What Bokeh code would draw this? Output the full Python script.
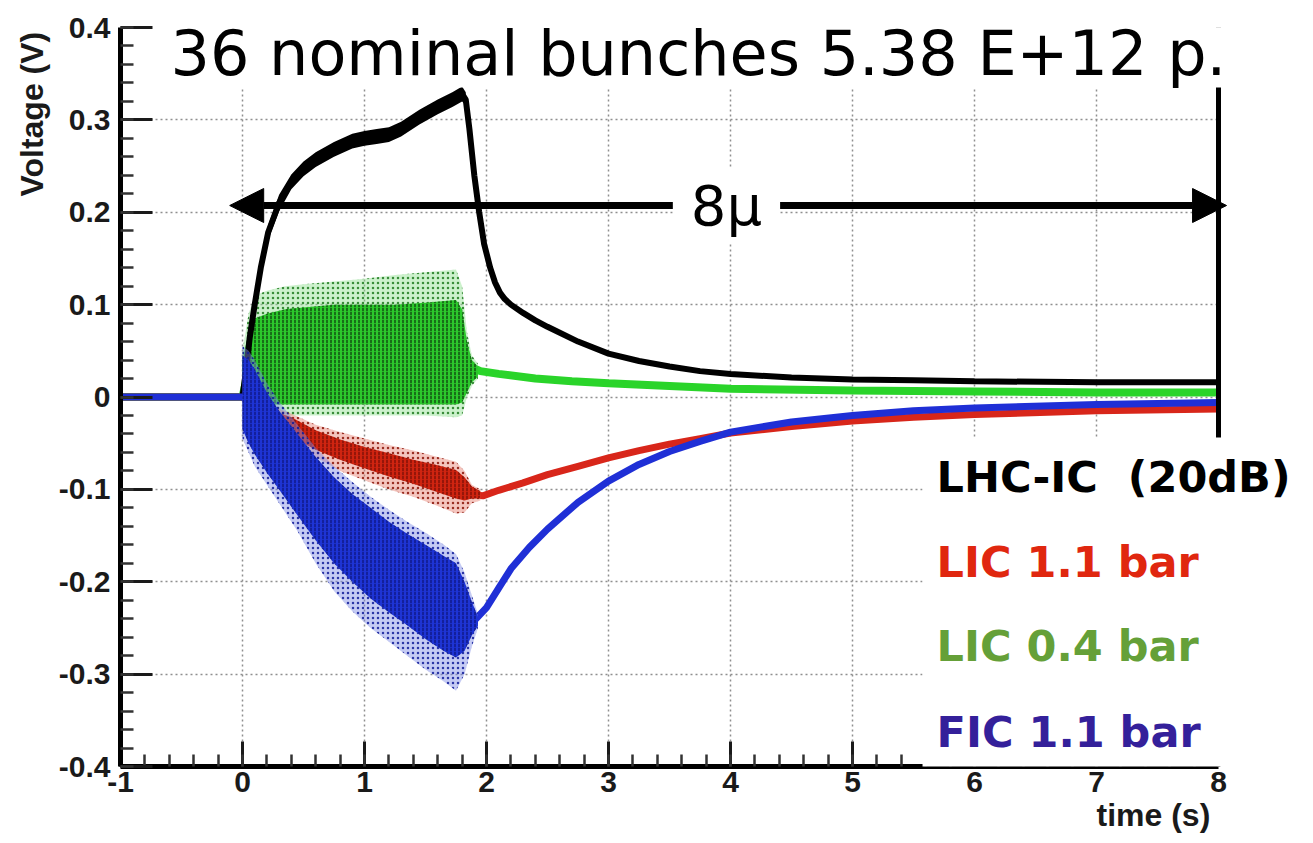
from bokeh.plotting import figure
from bokeh.models import (SingleIntervalTicker, CustomJSTickFormatter, Label, BoxAnnotation,
                          Span, Arrow, NormalHead, Title)
from bokeh.embed import file_html
from bokeh.resources import INLINE

# ---------------- data (time in s, voltage in V) ----------------
# LHC-IC (20dB): main trace
black_t = [-1.0, 0.0, 0.03, 0.06, 0.1, 0.15, 0.21, 0.3, 0.4, 0.5, 0.6, 0.75, 0.9, 1.0, 1.1, 1.2,
           1.3, 1.45, 1.6, 1.72, 1.8, 1.83, 1.86, 1.9, 1.94, 1.98, 2.03, 2.07, 2.11, 2.15, 2.2,
           2.3, 2.4, 2.5, 2.75, 3.0, 3.25, 3.5, 3.75, 4.0, 4.5, 5.0, 5.5, 6.0, 7.0, 8.0]
black_v = [0.0, 0.0, 0.03, 0.065, 0.10, 0.14, 0.178, 0.21, 0.233, 0.247, 0.257, 0.268, 0.277,
           0.28, 0.282, 0.284, 0.29, 0.303, 0.314, 0.322, 0.328, 0.322, 0.29, 0.24, 0.2, 0.166,
           0.14, 0.124, 0.113, 0.106, 0.1, 0.091, 0.083, 0.076, 0.06, 0.047, 0.039, 0.033,
           0.028, 0.025, 0.021, 0.019, 0.018, 0.017, 0.016, 0.016]
# LHC-IC ripple envelope during the beam
black_band_t = [0.15, 0.21, 0.3, 0.4, 0.5, 0.6, 0.75, 0.9, 1.0, 1.1, 1.2, 1.3, 1.45, 1.6, 1.72, 1.8, 1.83]
black_band_hi = [0.147, 0.186, 0.219, 0.241, 0.255, 0.265, 0.276, 0.285, 0.288, 0.29, 0.292, 0.298,
                 0.311, 0.322, 0.33, 0.336, 0.33]
black_band_lo = [0.133, 0.170, 0.201, 0.225, 0.239, 0.249, 0.26, 0.269, 0.272, 0.274, 0.276, 0.282,
                 0.295, 0.306, 0.314, 0.32, 0.316]

# LIC 0.4 bar
green_t = [-1.0, 0.0, 0.05, 0.3, 1.0, 1.8, 1.88, 1.95, 2.1, 2.4, 2.7, 3.0, 3.5, 4.0, 5.0, 6.0, 7.0, 8.0]
green_v = [0.0, 0.0, 0.03, 0.045, 0.045, 0.045, 0.032, 0.028, 0.025, 0.02, 0.017, 0.015, 0.012,
           0.009, 0.007, 0.006, 0.005, 0.005]
green_band_t = [0.0, 0.05, 0.1, 0.2, 0.35, 0.5, 0.75, 1.0, 1.25, 1.5, 1.75, 1.8, 1.84, 1.88, 1.93]
green_outer_hi = [0.05, 0.09, 0.11, 0.115, 0.12, 0.122, 0.125, 0.128, 0.132, 0.135, 0.138, 0.12, 0.07, 0.045, 0.036]
green_outer_lo = [-0.005, -0.01, -0.015, -0.018, -0.02, -0.02, -0.02, -0.02, -0.02, -0.02, -0.022, -0.02, 0.0, 0.012, 0.02]
green_core_hi = [0.04, 0.07, 0.085, 0.09, 0.095, 0.097, 0.1, 0.1, 0.1, 0.102, 0.105, 0.095, 0.06, 0.04, 0.033]
green_core_lo = [0.0, -0.003, -0.006, -0.008, -0.008, -0.008, -0.008, -0.008, -0.008, -0.008, -0.008, -0.006, 0.005, 0.016, 0.022]

# LIC 1.1 bar
red_t = [-1.0, 0.0, 0.2, 0.4, 0.75, 1.0, 1.3, 1.6, 1.8, 1.9, 1.97, 2.1, 2.3, 2.5, 2.75, 3.0, 3.25,
         3.5, 3.75, 4.0, 4.5, 5.0, 5.5, 6.0, 7.0, 8.0]
red_v = [0.0, 0.0, -0.02, -0.033, -0.058, -0.07, -0.083, -0.095, -0.103, -0.106, -0.107, -0.101,
         -0.093, -0.084, -0.075, -0.066, -0.058, -0.051, -0.045, -0.039, -0.032, -0.026, -0.022,
         -0.019, -0.015, -0.013]
red_band_t = [0.25, 0.4, 0.6, 0.8, 1.0, 1.2, 1.4, 1.6, 1.75, 1.82, 1.88, 1.95]
red_outer_hi = [-0.01, -0.018, -0.03, -0.038, -0.045, -0.052, -0.058, -0.065, -0.07, -0.08, -0.095, -0.1]
red_outer_lo = [-0.035, -0.048, -0.065, -0.08, -0.09, -0.1, -0.108, -0.118, -0.126, -0.125, -0.115, -0.112]
red_core_hi = [-0.015, -0.022, -0.036, -0.046, -0.054, -0.061, -0.068, -0.074, -0.079, -0.087, -0.097, -0.102]
red_core_lo = [-0.03, -0.043, -0.057, -0.068, -0.077, -0.086, -0.094, -0.103, -0.11, -0.112, -0.11, -0.109]

# FIC 1.1 bar
blue_t = [-1.0, 0.0, 0.1, 1.0, 1.9, 2.0, 2.1, 2.2, 2.35, 2.5, 2.75, 3.0, 3.25, 3.5, 3.75, 4.0, 4.5,
          5.0, 5.5, 6.0, 7.0, 8.0]
blue_v = [0.0, 0.0, -0.01, -0.16, -0.242, -0.228, -0.207, -0.186, -0.163, -0.143, -0.114, -0.091,
          -0.073, -0.059, -0.048, -0.038, -0.027, -0.02, -0.015, -0.012, -0.008, -0.006]
blue_band_t = [0.0, 0.05, 0.1, 0.2, 0.3, 0.45, 0.6, 0.75, 0.9, 1.05, 1.2, 1.35, 1.5, 1.65, 1.75, 1.82, 1.88, 1.93]
blue_outer_hi = [0.055, 0.05, 0.04, 0.015, -0.005, -0.03, -0.055, -0.075, -0.092, -0.108, -0.122,
                 -0.135, -0.147, -0.16, -0.17, -0.19, -0.215, -0.235]
blue_outer_lo = [-0.045, -0.06, -0.075, -0.095, -0.115, -0.145, -0.18, -0.21, -0.232, -0.25, -0.265,
                 -0.28, -0.295, -0.308, -0.318, -0.3, -0.27, -0.25]
blue_core_hi = [0.045, 0.04, 0.03, 0.005, -0.015, -0.04, -0.065, -0.087, -0.105, -0.12, -0.135,
                -0.148, -0.16, -0.172, -0.18, -0.2, -0.222, -0.238]
blue_core_lo = [-0.035, -0.05, -0.062, -0.082, -0.1, -0.128, -0.155, -0.18, -0.2, -0.218, -0.233,
                -0.247, -0.262, -0.275, -0.282, -0.275, -0.258, -0.248]

x_ticks_interval = 1
y_ticks_interval = 0.1

legend_entries = ["LHC-IC\u00a0 (20dB)", "LIC 1.1 bar", "LIC 0.4 bar", "FIC 1.1 bar"]
legend_colors = ["#000000", "#e0270f", "#65a038", "#34209a"]

title_text = "36 nominal bunches 5.38 E+12 p."

# ---------------- figure ----------------
# frame runs to the right edge of the canvas; the data area ends at t = 8
X_END = 8 + 95 / 122
p = figure(width=1313, height=843, x_range=(-1, X_END), y_range=(-0.4, 0.4),
           output_backend="svg", toolbar_location=None,
           min_border_left=120, min_border_right=0, min_border_top=27, min_border_bottom=77)
p.background_fill_color = "white"
p.border_fill_color = "white"
p.outline_line_color = None

xt = SingleIntervalTicker(interval=x_ticks_interval, num_minor_ticks=5)
yt = SingleIntervalTicker(interval=y_ticks_interval, num_minor_ticks=5)
p.xaxis.ticker = xt
p.yaxis.ticker = yt
p.xgrid.ticker = xt
p.ygrid.ticker = yt
p.xaxis.bounds = (-1, 8)
p.yaxis.formatter = CustomJSTickFormatter(code="return (Math.round(tick*10)/10).toString();")
p.xaxis.formatter = CustomJSTickFormatter(code="return Math.round(tick).toString();")

for g in (p.xgrid, p.ygrid):
    g.grid_line_color = "#8f8f8f"
    g.grid_line_dash = "2 3"
    g.grid_line_width = 1.5

for ax in (p.xaxis, p.yaxis):
    ax.axis_line_width = 5
    ax.axis_line_color = "black"
    ax.major_tick_line_color = "#1a1a1a"
    ax.minor_tick_line_color = "#333333"
    ax.major_tick_line_width = 3
    ax.minor_tick_line_width = 2.5
    ax.major_tick_out = 0
    ax.minor_tick_out = 0
    ax.major_label_text_font = "Liberation Sans"
    ax.major_label_text_font_style = "bold"
    ax.major_label_text_font_size = "30px"
    ax.major_label_text_color = "#1a1a1a"

p.xaxis.major_tick_in = 25
p.xaxis.minor_tick_in = 12
p.xaxis.major_label_standoff = 5
p.yaxis.major_tick_in = 32
p.yaxis.minor_tick_in = 13
p.yaxis.major_label_standoff = 10

# axis titles, placed at the far ends of the axes
p.add_layout(Title(text="time (s)", align="left", offset=976, standoff=0,
                   text_font="Liberation Sans", text_font_style="bold", text_font_size="32px",
                   text_color="#1a1a1a"), "below")
p.add_layout(Title(text="Voltage (V)", align="left", offset=570, standoff=12,
                   text_font="Liberation Sans", text_font_style="bold", text_font_size="32px",
                   text_color="#1a1a1a"), "left")

# ---------------- traces ----------------
# LIC 0.4 bar (green)
p.line(green_t, green_v, line_color="#2ad42a", line_width=8)
p.varea(x=green_band_t, y1=green_outer_lo, y2=green_outer_hi, fill_color="#8fe08f", fill_alpha=0.45,
        hatch_pattern="dot", hatch_color="#1f7a1f", hatch_scale=5, hatch_weight=1.4, hatch_alpha=0.85)
p.varea(x=green_band_t, y1=green_core_lo, y2=green_core_hi, fill_color="#2cc82c",
        hatch_pattern=":", hatch_color="#104a10", hatch_scale=4, hatch_weight=1.6, hatch_alpha=0.9)

# LIC 1.1 bar (red)
p.line(red_t, red_v, line_color="#d8261a", line_width=7)
p.varea(x=red_band_t, y1=red_outer_lo, y2=red_outer_hi, fill_color="#e88070", fill_alpha=0.45,
        hatch_pattern="dot", hatch_color="#8a1408", hatch_scale=5, hatch_weight=1.4, hatch_alpha=0.85)
p.varea(x=red_band_t, y1=red_core_lo, y2=red_core_hi, fill_color="#cf2410",
        hatch_pattern=":", hatch_color="#6e0a04", hatch_scale=4, hatch_weight=1.4, hatch_alpha=0.85)

# LHC-IC (black)
p.line(black_t, black_v, line_color="black", line_width=6)
p.varea(x=black_band_t, y1=black_band_lo, y2=black_band_hi, fill_color="black")

# FIC 1.1 bar (blue)
p.line(blue_t, blue_v, line_color="#1f2fd6", line_width=7)
p.varea(x=blue_band_t, y1=blue_outer_lo, y2=blue_outer_hi, fill_color="#7f8ce6", fill_alpha=0.45,
        hatch_pattern="dot", hatch_color="#101c9a", hatch_scale=5, hatch_weight=1.4, hatch_alpha=0.85)
p.varea(x=blue_band_t, y1=blue_core_lo, y2=blue_core_hi, fill_color="#1e34d4",
        hatch_pattern=":", hatch_color="#0b1276", hatch_scale=4, hatch_weight=1.4, hatch_alpha=0.85)

# ---------------- frame, boxes, annotations ----------------
# blank margin to the right of t = 8
p.add_layout(BoxAnnotation(left=8.0, right=X_END + 0.1, top=0.45, bottom=-0.05,
                           fill_color="white", fill_alpha=1.0, line_color=None))
p.add_layout(Span(location=8, dimension="height", line_color="black", line_width=5))

# white panel behind the title
p.add_layout(BoxAnnotation(left=-0.71, right=X_END + 0.1, top=0.45, bottom=0.335,
                           fill_color="white", fill_alpha=1.0, line_color=None))
# white panel behind the channel list
p.add_layout(BoxAnnotation(left=5.574, right=X_END + 0.1, top=-0.0438, bottom=-0.4032,
                           fill_color="white", fill_alpha=1.0, line_color=None))

# 8 us span arrow
head_l = NormalHead(size=34, fill_color="black", line_color="black")
head_r = NormalHead(size=34, fill_color="black", line_color="black")
p.add_layout(Arrow(start=head_l, end=head_r, x_start=-0.105, y_start=0.2073, x_end=8.066, y_end=0.2073,
                   line_color="black", line_width=7))
p.add_layout(Label(x=3.967, y=0.2073, text="8µ", text_align="center", text_baseline="middle",
                   text_font="DejaVu Sans", text_font_size="56px", text_color="black",
                   background_fill_color="white", background_fill_alpha=1.0, padding=(18, 4)))

p.add_layout(Label(x=-0.59, y=0.372, text=title_text, text_align="left", text_baseline="alphabetic",
                   text_font="DejaVu Sans", text_font_size="62px", text_color="black"))

legend_y = [-0.0871, -0.1786, -0.2695, -0.3626]
for txt, col, yy in zip(legend_entries, legend_colors, legend_y):
    p.add_layout(Label(x=5.689, y=yy, text=txt, text_align="left", text_baseline="alphabetic",
                       text_font="DejaVu Sans", text_font_style="bold", text_font_size="43px",
                       text_color=col))

open("out.html", "w").write(file_html(p, INLINE))
